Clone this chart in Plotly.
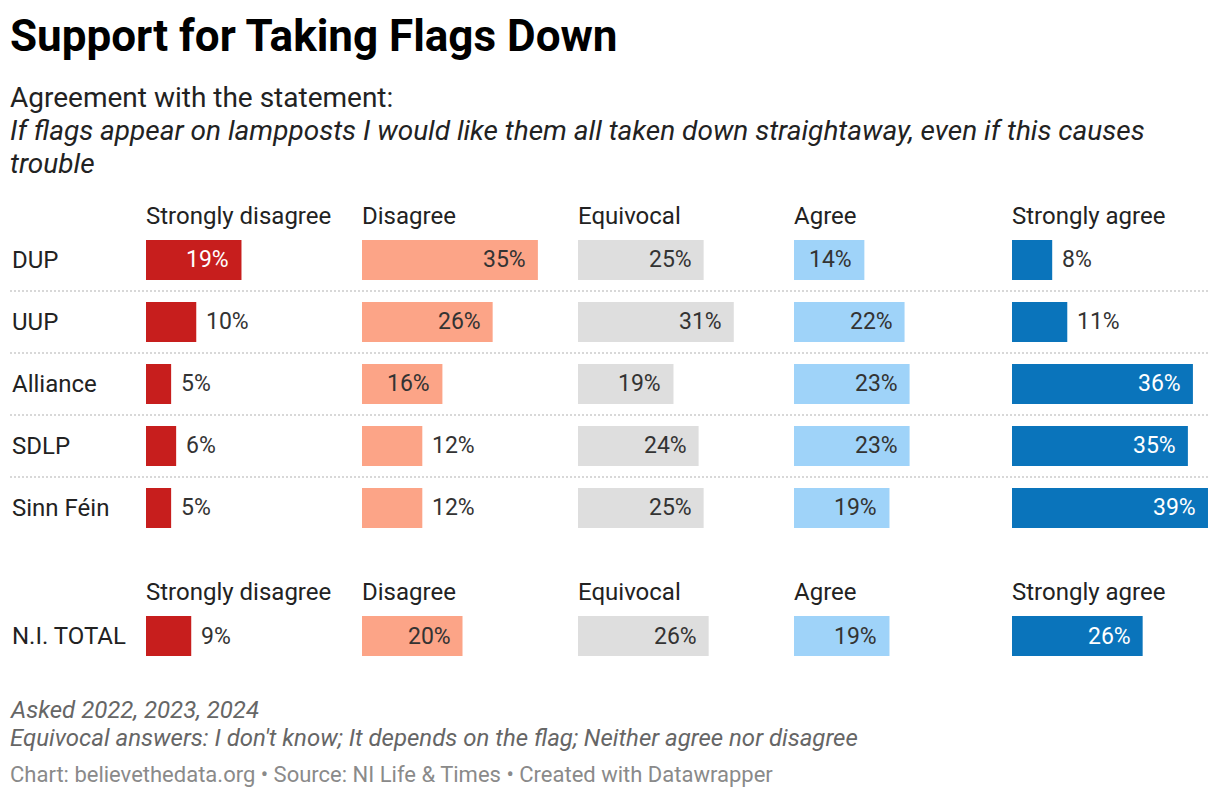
import plotly.graph_objects as go

# --- Data ---
parties = ['DUP', 'UUP', 'Alliance', 'SDLP', 'Sinn Féin']
answers = ['Strongly disagree', 'Disagree', 'Equivocal', 'Agree', 'Strongly agree']

strongly_disagree = [19, 10, 5, 6, 5]
disagree = [35, 26, 16, 12, 12]
equivocal = [25, 31, 19, 24, 25]
agree = [14, 22, 23, 23, 19]
strongly_agree = [8, 11, 36, 35, 39]

total_label = ['N.I. TOTAL']
total_values = [9, 20, 26, 19, 26]

# --- Style ---
# the page body has an 8px margin, so the figure is a bit smaller than the window
OFF = 8
W, H = 1220 - OFF, 798 - OFF
FONT = "Roboto, Arial, sans-serif"
TEXT_DARK = '#333333'
COLORS = ['#c71e1d', '#fca487', '#dedede', '#9fd3f9', '#0a74bb']
DARK_BARS = [True, False, False, False, True]
COL_LEFT = [146, 362, 578, 794, 1012]   # window px, left edge of each column
COL_WIDTH = 197
X_MAX = 39.2
BAR_WIDTH = 0.645
INSIDE_MIN = 13  # bars at least this wide get the label inside
TXT_PAD = 2      # annotation boxes add a little padding on the left


def px_x(p):
    return (p - OFF) / W


def px_y(p):
    return 1 - (p - OFF) / H


top_series = [strongly_disagree, disagree, equivocal, agree, strongly_agree]

fig = go.Figure()
annotations = []


def add_block(values_per_col, cats, yname, axis_offset):
    for i, vals in enumerate(values_per_col):
        xname = 'x' if i + axis_offset == 0 else f'x{i + axis_offset + 1}'
        fig.add_trace(go.Bar(
            x=vals, y=cats, orientation='h',
            xaxis=xname, yaxis=yname,
            marker=dict(color=COLORS[i], line=dict(width=0)),
            width=BAR_WIDTH,
            hovertemplate='%{y}: %{x}%<extra>' + answers[i] + '</extra>',
            showlegend=False,
        ))
        for cat, v in zip(cats, vals):
            inside = v >= INSIDE_MIN
            annotations.append(dict(
                x=v, y=cat, xref=xname, yref=yname,
                text=f'{v}%', showarrow=False,
                xanchor='right' if inside else 'left',
                xshift=-10 if inside else 8,
                font=dict(size=23, family=FONT,
                          color='white' if (inside and DARK_BARS[i]) else TEXT_DARK),
            ))


add_block(top_series, parties, 'y', 0)
add_block([[v] for v in total_values], total_label, 'y2', 5)

# --- Axes ---
layout_axes = {}
for k in range(10):
    name = 'xaxis' if k == 0 else f'xaxis{k + 1}'
    left = COL_LEFT[k % 5]
    layout_axes[name] = dict(
        domain=[px_x(left), px_x(left + COL_WIDTH)],
        range=[0, X_MAX], visible=False, fixedrange=True,
        anchor='y' if k < 5 else 'y2',
    )
layout_axes['yaxis'] = dict(
    domain=[px_y(539), px_y(229)], type='category',
    categoryarray=parties, range=[len(parties) - 0.5, -0.5],
    visible=False, fixedrange=True, anchor='x',
)
layout_axes['yaxis2'] = dict(
    domain=[px_y(667), px_y(605)], type='category',
    categoryarray=total_label, range=[0.5, -0.5],
    visible=False, fixedrange=True, anchor='x6',
)

# --- Row labels and column headers ---
for p in parties:
    annotations.append(dict(x=px_x(12 - TXT_PAD), y=p, xref='paper', yref='y', text=p,
                            showarrow=False, xanchor='left',
                            font=dict(size=24, family=FONT, color='#222')))
annotations.append(dict(x=px_x(12 - TXT_PAD), y=total_label[0], xref='paper', yref='y2',
                        text=total_label[0], showarrow=False, xanchor='left',
                        font=dict(size=24, family=FONT, color='#222')))
for header_y in (216, 592):
    for left, a in zip(COL_LEFT, answers):
        annotations.append(dict(x=px_x(left - TXT_PAD), y=px_y(header_y), xref='paper', yref='paper',
                                text=a, showarrow=False, xanchor='left', yanchor='middle',
                                font=dict(size=24, family=FONT, color='#222')))

# --- Title, subtitle, notes ---
def text_line(txt, y, size, color, xpos=10 - TXT_PAD):
    annotations.append(dict(x=px_x(xpos), y=px_y(y), xref='paper', yref='paper',
                            text=txt, showarrow=False, xanchor='left', yanchor='middle',
                            font=dict(size=size, family=FONT, color=color)))


text_line('<b>Support for Taking Flags Down</b>', 36, 44, '#000000', 8)
text_line('Agreement with the statement:', 98, 28, '#222222')
text_line('<i>If flags appear on lampposts I would like them all taken down straightaway, even if this causes</i>',
          131, 28, '#222222')
text_line('<i>trouble</i>', 164, 28, '#222222')
text_line('<i>Asked 2022, 2023, 2024</i>', 710, 24, '#666666')
text_line("<i>Equivocal answers: I don't know; It depends on the flag; Neither agree nor disagree</i>",
          738, 24, '#666666')
text_line('Chart: believethedata.org • Source: NI Life & Times • Created with Datawrapper',
          774, 22, '#8a8a8a')

# --- Dotted separators between party rows ---
shapes = []
for i in range(len(parties) - 1):
    shapes.append(dict(type='line', xref='paper', yref='y',
                       x0=px_x(10), x1=px_x(1208), y0=i + 0.5, y1=i + 0.5,
                       line=dict(color='#cccccc', width=1.3, dash='2px,2px')))

fig.update_layout(
    width=W, height=H,
    margin=dict(l=0, r=0, t=0, b=0),
    paper_bgcolor='white', plot_bgcolor='white',
    font=dict(family=FONT, color=TEXT_DARK),
    barmode='overlay',
    annotations=annotations,
    shapes=shapes,
    showlegend=False,
    **layout_axes,
)

fig.write_html("out.html")
